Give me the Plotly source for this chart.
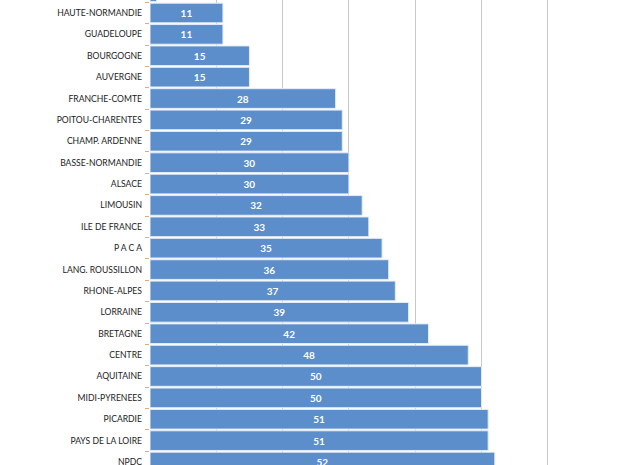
import plotly.graph_objects as go

regions = ["GUYANE", "HAUTE-NORMANDIE", "GUADELOUPE", "BOURGOGNE", "AUVERGNE",
           "FRANCHE-COMTE", "POITOU-CHARENTES", "CHAMP. ARDENNE", "BASSE-NORMANDIE",
           "ALSACE", "LIMOUSIN", "ILE DE FRANCE", "P A C A", "LANG. ROUSSILLON",
           "RHONE-ALPES", "LORRAINE", "BRETAGNE", "CENTRE", "AQUITAINE",
           "MIDI-PYRENEES", "PICARDIE", "PAYS DE LA LOIRE", "NPDC"]
values = [1, 11, 11, 15, 15, 28, 29, 29, 30, 30, 32, 33, 35, 36, 37, 39, 42, 48,
          50, 50, 51, 51, 52]
x_ticks = [0, 10, 20, 30, 40, 50, 60]

labels = [str(v) if v >= 5 else "" for v in values]

fig = go.Figure(go.Bar(
    x=values, y=regions, orientation="h",
    marker=dict(color="#5b8ecb", line=dict(color="#e4ecf6", width=1)),
    text=labels, textposition="inside", insidetextanchor="middle",
    textfont=dict(family="Lato", size=10, color="white", weight="bold"),
    cliponaxis=True,
))

fig.update_layout(
    width=620, height=465,
    margin=dict(l=150, r=39, t=0, b=0, pad=0),
    paper_bgcolor="white", plot_bgcolor="white",
    bargap=0.08, showlegend=False,
    xaxis=dict(range=[0, 65], tickvals=x_ticks, showticklabels=False,
               showgrid=True, gridcolor="#c8c8c8", gridwidth=1, zeroline=False,
               automargin=False),
    yaxis=dict(type="category", range=[22.14, 0.392], showgrid=False,
               ticks="outside", tickson="boundaries", ticklen=4, tickcolor="#dcae7c",
               showline=False, automargin=False, ticklabelstandoff=7,
               tickfont=dict(family="Lato", size=8.6, color="#222222")),
    uniformtext=dict(minsize=8, mode="show"),
)

fig.write_html("out.html", config={"displayModeBar": False},
               post_script="document.body.style.margin='0';")
